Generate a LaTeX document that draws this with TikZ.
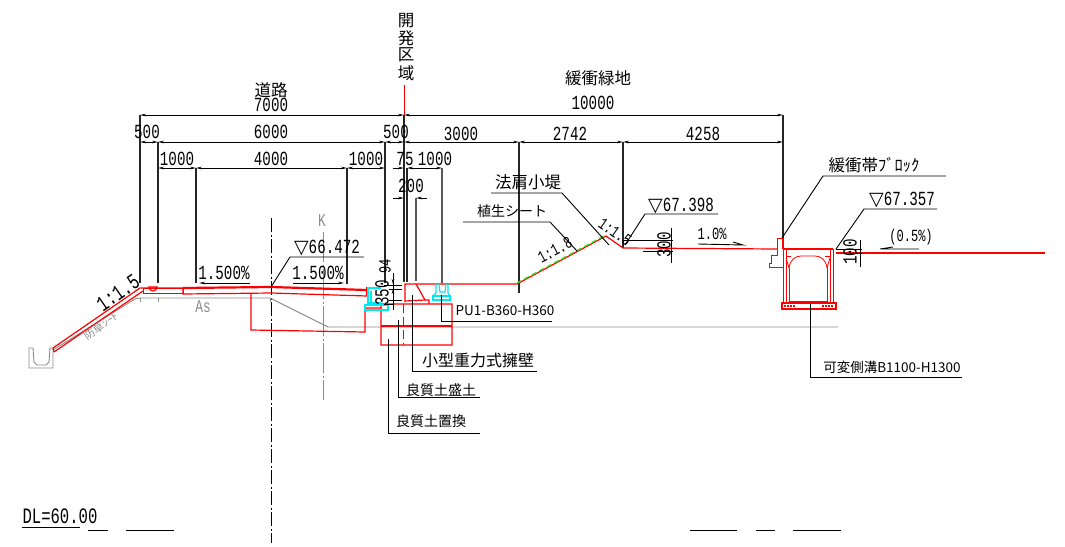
\documentclass[tikz,border=0pt]{standalone}
\usepackage{fontspec}
\setmainfont{Liberation Sans}
\newfontfamily\dig[FakeStretch=0.71]{Liberation Mono}
\newfontfamily\tri{DejaVu Sans}
\newfontfamily\jp{Noto Sans CJK JP}
\newcommand{\dn}{{\tri\fontsize{19}{19}\selectfont ▽}}
\usetikzlibrary{arrows.meta}
\definecolor{cadred}{HTML}{FF0000}
\definecolor{cadgray}{HTML}{8C8C8C}
\definecolor{cadcyan}{HTML}{00E8F0}
\definecolor{cadgreen}{HTML}{30E020}
\tikzset{
 x=1pt,y=-1pt,
 red1/.style={draw=cadred,line width=1.2pt},
 red2/.style={draw=cadred,line width=2.2pt},
 redT/.style={draw=cadred,line width=.8pt},
 cy/.style={draw=cadcyan,line width=1.2pt},
 gr/.style={draw=cadgray,line width=.9pt},
 blk/.style={draw=black,line width=.9pt},
 ext/.style={draw=black!85,line width=1.2pt},
 dimn/.style={draw=black,line width=.9pt,{Stealth[length=6pt,width=2.6pt]}-{Stealth[length=6pt,width=2.6pt]}},
 arrR/.style={draw=black,line width=.9pt,-{Stealth[length=6pt,width=2.6pt]}},
 num/.style={inner sep=0pt,font=\fontsize{20}{20}\selectfont\dig},
 numS/.style={inner sep=0pt,font=\fontsize{17}{17}\selectfont\dig},
 numL/.style={inner sep=0pt,font=\fontsize{22}{22}\selectfont\dig},
 ja/.style={inner sep=0pt,font=\fontsize{16.5}{16.5}\selectfont\jp},
 jaS/.style={inner sep=0pt,font=\fontsize{14}{14}\selectfont\jp},
 mixS/.style={inner sep=0pt,font=\fontsize{13.5}{13.5}\selectfont\jp},
 graytxt/.style={inner sep=0pt,text=cadgray,font=\fontsize{18}{18}\selectfont\dig},
}
\begin{document}
\begin{tikzpicture}
\useasboundingbox[fill=white] (0,0) rectangle (1065,546);
% centre lines
\draw[draw=black,line width=1pt,dash pattern=on 14pt off 2.5pt on 2pt off 2.5pt] (271,218) -- (271,543);
\draw[draw=cadgray,line width=1pt,dash pattern=on 30pt off 2.5pt on 2pt off 2.5pt] (323,232) -- (323,400);
% existing ground and sheet
\draw[gr] (53,350) -- (135,299) -- (140,298) -- (270,298) -- (328,327) -- (838,327);
\draw[gr] (140,298)--(140,302) (158,298)--(158,302) (270,298)--(270,302);
\draw[gr] (29,348) -- (29,368) -- (53,368) -- (53,348) -- (50,348) -- (49,362) -- (46,365) -- (37,365) -- (34,362) -- (33,348) -- cycle;
% extension lines
\draw[ext] (140,115)--(140,283) (158,142)--(158,283) (196,168)--(196,283) (347,168)--(347,284);
\draw[ext] (385,142)--(385,283) (404,115)--(404,282) (519,142)--(519,293) (623,142)--(623,248) (783,115)--(783,240);
\draw[ext] (407,168)--(407,282);
\draw[draw=black!65,line width=1.2pt] (416,198)--(416,281) (442,168)--(442,283);
\draw[draw=cadred,line width=1pt] (404,85)--(404,115);
% dimension lines
\draw[dimn] (140,115)--(404,115);
\draw[dimn] (404,115)--(783,115);
\draw[dimn] (140,142)--(158,142);
\draw[dimn] (158,142)--(385,142);
\draw[dimn] (385,142)--(404,142);
\draw[dimn] (404,142)--(519,142);
\draw[dimn] (519,142)--(623,142);
\draw[dimn] (623,142)--(783,142);
\draw[dimn] (158,168)--(196,168);
\draw[dimn] (196,168)--(347,168);
\draw[dimn] (347,168)--(385,168);
\draw[arrR] (393,168)--(404,168);
\draw[dimn] (407,168)--(442,168);
\draw[arrR] (393,198)--(404,198);
\draw[arrR] (427,198)--(416,198);
% road, red
\draw[red1] (53,348) -- (140,288) -- (183,288);
\draw[red1] (54,352) -- (143,291);
\draw[red1] (53,348)--(54,352);
\draw[redT] (143,288) rectangle (183,293);
\draw[red1] (149,287) arc (180:0:4) -- cycle;
\draw[red2] (183,288) -- (271,287) -- (367,290);
\draw[red1] (183,288)--(183,294) -- (271,293) -- (367,296);
\draw[red1] (367,287) -- (367,296);
\draw[red1] (251,293) -- (251,330) -- (365,332) -- (365,308) -- (381,308);
% wall and boxes
\draw[red1] (405,302) -- (405,284) -- (517,284) -- (606,236) -- (623,248) -- (777,249);
\draw[red1] (416,284) -- (425,300) -- (429,300) -- (429,304) -- (381,304) -- (381,345) -- (452,345) -- (452,304) -- (429,304);
\draw[red1] (405,301) -- (425,300);
\draw[red1] (381,326) -- (452,326);
\draw[draw=cadred,line width=1pt,dash pattern=on 9pt off 4pt] (403,304) -- (403,345);
\draw[draw=cadgreen,line width=1.3pt,dash pattern=on 5pt off 3.5pt] (517,283) -- (604,236);
% cyan U ditches
\draw[cy] (381,288) -- (368,288) -- (368,303) -- (381,303);
\draw[cy] (371,291) -- (371,303);
\draw[cy] (365,305) rectangle (388,310);
\draw[cy] (436,284)--(436,293)--(433,296) (448,284)--(448,293)--(450,296);
\draw[cy] (439,284)--(440,292)--(445,292)--(446,284);
\draw[cy] (433,296) rectangle (450,300);
% block and flume
\draw[redT] (783,238) -- (777,238) -- (777,255) -- (771,255) -- (771,263) -- (769,263) -- (769,267) -- (783,267);
\draw[red1] (783,238)--(783,249);
\draw[red1] (783,249) -- (833,249);
\draw[redT] (783,249) -- (783,303) (833,249) -- (833,303);
\draw[redT] (786,249) -- (786,303) (830,249) -- (830,303);
\draw[redT] (789,303) -- (789,268) (827,303) -- (827,268);
\draw[redT] (786,256) -- (791,256) (825,256) -- (830,256);
\draw[redT] (786,258) -- (789,268) (830,258) -- (827,268);
\draw[redT] (789,268) .. controls (790,260) and (795,256) .. (801,256) -- (815,256) .. controls (821,256) and (826,260) .. (827,268);
\draw[redT] (789,301) -- (827,301);
\draw[red1] (782,303) rectangle (836,309);
\draw[draw=cadred,line width=1.2pt,dash pattern=on 1.5pt off 1.5pt] (784,306) -- (795,306) (822,306) -- (834,306);
\draw[red1] (836,253) -- (1045,253);
% dims 94/350
\draw[blk] (393,273) -- (393,310);
\draw[blk,{Stealth[length=5pt,width=2.6pt]}-] (393,284) -- (393,274);
\draw[blk,{Stealth[length=5pt,width=2.6pt]}-] (393,289) -- (393,298);
\draw[blk] (384,285) -- (402,285) (389,289) -- (402,289) (389,300) -- (402,300) (384,304) -- (393,304);
% leaders
\draw[blk] (412,295) -- (412,371) -- (537,371);
\draw[blk] (398,320) -- (398,397) -- (480,397);
\draw[blk] (388,339) -- (388,433) -- (480,433);
\draw[blk] (441.5,295) -- (441.5,321) -- (552,321);
\draw[blk] (491,193) -- (562,193) -- (609,245);
\draw[blk] (463,222) -- (550,222) -- (577,251);
\draw[blk] (625,245) -- (645,214) -- (718,214);
\draw[blk] (782,238) -- (823,176) -- (946,176);
\draw[blk] (836,249) -- (864,209) -- (937,209);
\draw[blk] (810,304) -- (810,377) -- (962,377);
\draw[blk] (271,287) -- (290,257) -- (364,257);
% 300, 100
\draw[blk] (671,228) -- (671,263);
\draw[blk] (623,240) -- (673,240) (643,251) -- (673,251);
\draw[blk] (860,240) -- (860,267);
\draw[blk] (836,249) -- (862,249) (850,253) -- (862,253);
% slope marks
\draw[arrR] (250,283) -- (199,283);
\draw[arrR] (293,283) -- (344,283);
\draw[blk] (698,244) -- (743,245) -- (733,242);
\draw[blk] (919,249) -- (880,249) -- (893,247);
% bottom lines
\draw[blk] (22,527) -- (80,527) (88,530) -- (108,530) (126,530) -- (174,530);
\draw[blk] (690,530) -- (737,530) (756,530) -- (775,530) (793,530) -- (841,530);
% texts
\node[ja] (t1) at (406,21) {開};
\node[ja] (t2) at (406,38) {発};
\node[ja] (t3) at (406,55) {区};
\node[ja] (t4) at (406,73) {域};
\node[ja] (road) at (271,90) {道路};
\node[ja] (buf) at (598,78) {緩衝緑地};
\node[num] (a) at (271,105) {7000};
\node[num] (b) at (593,103) {10000};
\node[num] (c) at (147,132) {500};
\node[num] (d) at (271,132) {6000};
\node[num] (e) at (396,132) {500};
\node[num] (f) at (461,134) {3000};
\node[num] (g) at (570,134) {2742};
\node[num] (h) at (703,134) {4258};
\node[num] (i) at (177,159) {1000};
\node[num] (j) at (271,159) {4000};
\node[num] (k) at (366,159) {1000};
\node[num] (l) at (405,159) {75};
\node[num] (m) at (435,159) {1000};
\node[num] (n) at (411,186) {200};
\node[ja] (o) at (528,182) {法肩小堤};
\node[jaS] (p) at (512,211) {植生シート};
\node[num] (q) at (327,248) {\dn 66.472};
\node[num] (r) at (681,206) {\dn 67.398};
\node[num] (s) at (902,200) {\dn 67.357};
\node[ja] (u) at (874,165) {緩衝帯ﾌﾞﾛｯｸ};
\node[num] (v) at (224,273) {1.500\%};
\node[num] (w) at (318,273) {1.500\%};
\node[graytxt] (x) at (203,307) {As};
\node[graytxt] (y) at (322,221) {K};
\node[numL,rotate=35] (z) at (118,293) {1:1.5};
\node[jaS,text=cadgray,rotate=35,font=\fontsize{11}{11}\selectfont\jp] (aa) at (101,326) {防草ｼｰﾄ};
\node[numS,rotate=90] (ab) at (385,266) {94};
\node[num,rotate=90] (ac) at (382,293) {350};
\node[num,rotate=90] (ad) at (664,245) {300};
\node[num,rotate=90] (ae) at (850,252) {100};
\node[numS,rotate=28] (af) at (555,250) {1:1.8};
\node[numS,rotate=-35] (ag) at (615,232) {1:1.5};
\node[numS] (ah) at (712,234) {1.0\%};
\node[numS] (ai) at (911,237) {(0.5\%)};
\node[mixS] (aj) at (505,311) {PU1-B360-H360};
\node[mixS,font=\fontsize{16}{16}\selectfont\jp] (ak) at (478,360) {小型重力式擁壁};
\node[mixS,font=\fontsize{14}{14}\selectfont\jp] (al) at (441,390) {良質土盛土};
\node[mixS,font=\fontsize{14}{14}\selectfont\jp] (am) at (431,421) {良質土置換};
\node[mixS] (an) at (892,367) {可変側溝B1100-H1300};
\node[numL] (ao) at (60,516) {DL=60.00};
\end{tikzpicture}
\end{document}
